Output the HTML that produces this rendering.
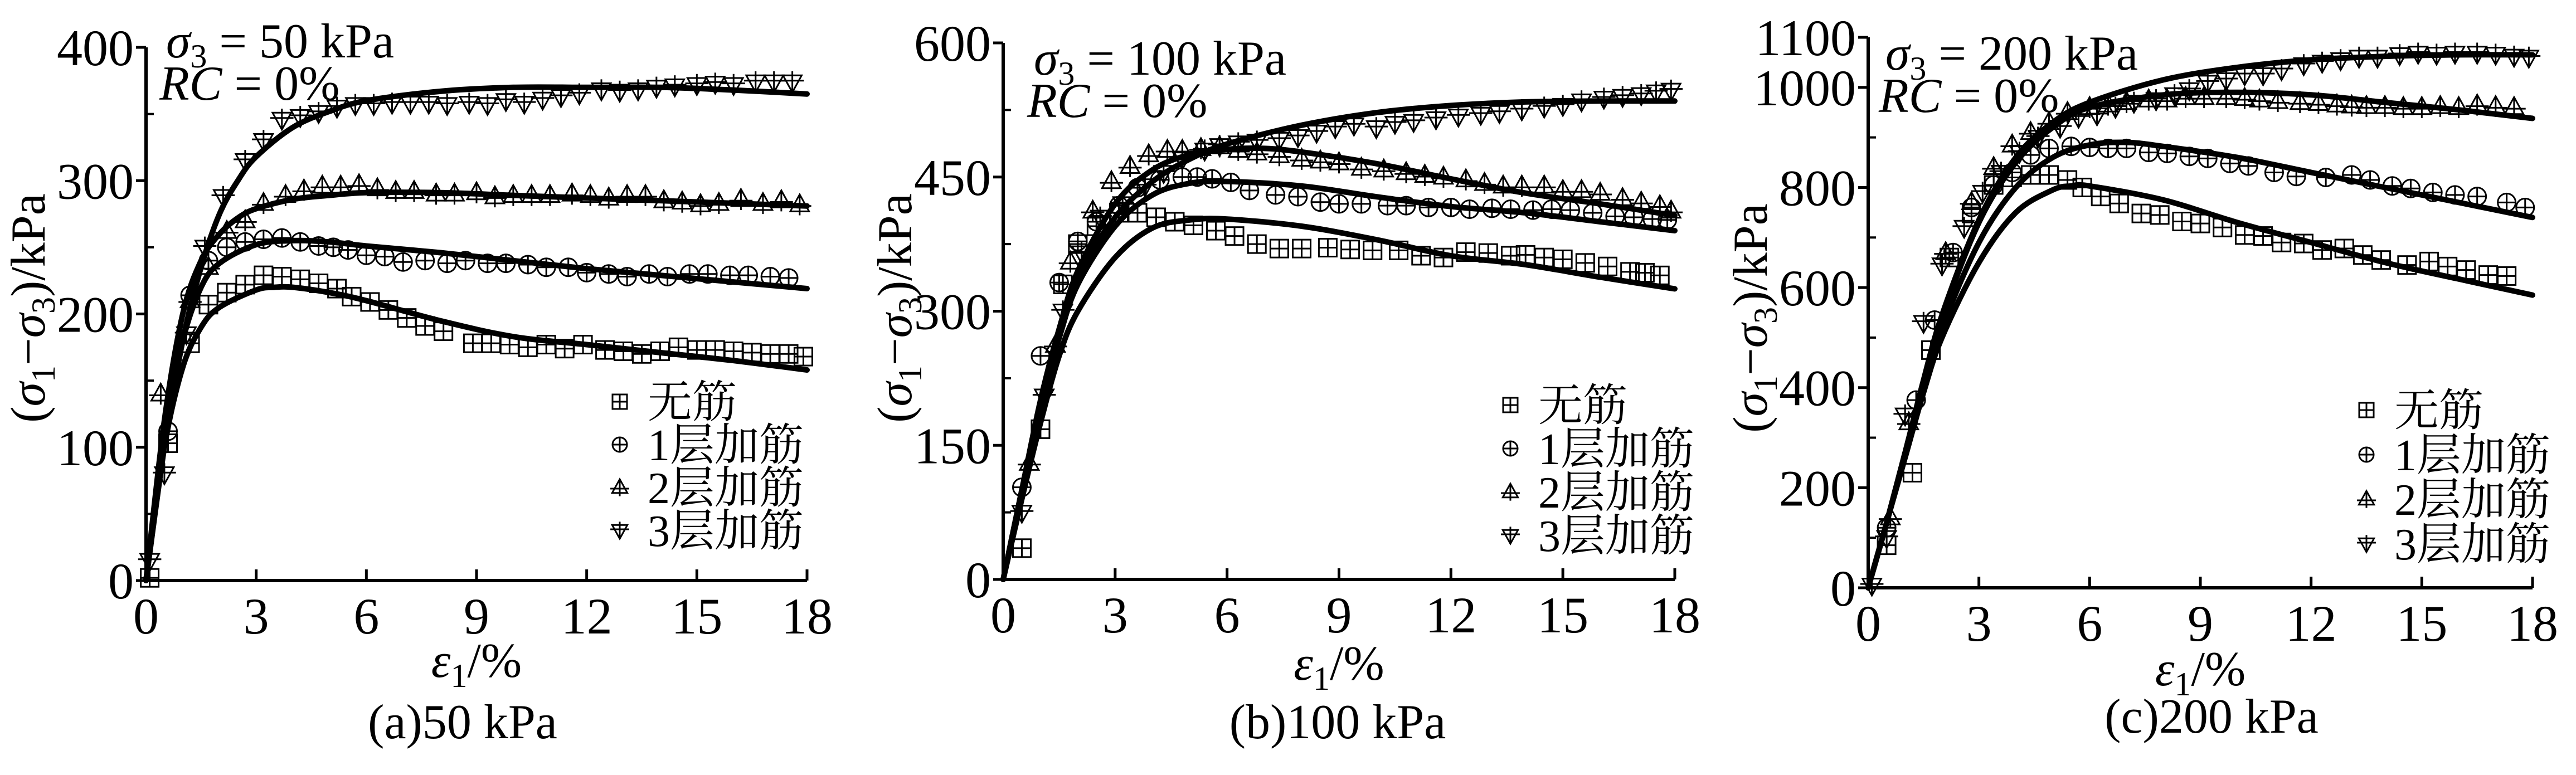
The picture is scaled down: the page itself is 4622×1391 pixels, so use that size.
<!DOCTYPE html>
<html><head><meta charset="utf-8"><style>
html,body{margin:0;padding:0;background:#fff;}
svg{display:block;}
svg text{font-family:"Liberation Serif","Noto Serif CJK SC","Noto Sans CJK SC",serif !important;fill:#000;}
</style></head><body>
<svg id="fig" width="4622" height="1391" viewBox="0 0 4622 1391" font-family="'Liberation Serif','Noto Serif CJK SC',serif" xmlns="http://www.w3.org/2000/svg"></svg>
<script>
// ---------- Panel (a) 50 kPa ----------
const aNoneCurveX=[0,0.5,1,1.5,2,3,3.5,4,5,6,8,10,12,14,16,18];
const aNoneCurveY=[0,100,160,190,205,218,220,220,216,210,195,183,177,171,165,158];
const aNonePtsX=[0.1,0.6,1.2,1.7,2.2,2.7,3.2,3.7,4.2,4.7,5.2,5.6,6.1,6.6,7.1,7.6,8.1,8.9,9.4,9.9,10.4,10.9,11.4,11.9,12.5,13.0,13.5,14.0,14.5,15.0,15.5,16.0,16.5,17.0,17.5,17.9];
const aNonePtsY=[2,103,178,207,216,222,229,228,226,223,219,213,209,203,197,191,187,178,178,177,175,177,174,177,173,172,170,172,175,173,173,172,171,170,170,168];
const aL1CurveX=[0,0.5,1,1.5,2,3,4,5,6,8,10,12,14,16,18];
const aL1CurveY=[0,110,180,220,238,252,255,254,251,246,240,234,229,224,219];
const aL1PtsX=[0.6,1.2,1.7,2.2,2.7,3.2,3.7,4.2,4.7,5.1,5.5,6.0,6.5,7.0,7.6,8.2,8.7,9.3,9.8,10.4,10.9,11.5,12.0,12.6,13.1,13.7,14.2,14.8,15.3,15.9,16.4,17.0,17.5];
const aL1PtsY=[112,214,240,250,254,256,257,254,251,250,248,244,243,239,240,238,240,238,238,237,235,235,231,230,228,230,228,230,230,229,229,228,227];
const aL2CurveX=[0,0.5,1,1.5,2,2.5,3,4,5,6,8,10,12,14,16,18];
const aL2CurveY=[0,120,200,240,260,272,279,286,289,291,291,289,287,285,283,281];
const aL2PtsX=[0.4,1.2,1.7,2.2,2.7,3.2,3.8,4.3,4.8,5.3,5.8,6.3,6.8,7.3,7.9,8.4,9.0,9.5,10.0,10.5,11.0,11.6,12.1,12.6,13.1,13.6,14.1,14.6,15.1,15.6,16.2,16.8,17.3,17.8];
const aL2PtsY=[140,210,235,262,270,283,289,293,296,296,297,294,292,292,290,290,291,288,289,289,289,290,289,287,289,289,285,284,282,283,286,283,285,282];
const aL3CurveX=[0,0.5,1,1.5,2,2.5,3,4,5,6,8,10,12,14,16,18];
const aL3CurveY=[0,100,180,235,275,300,318,340,352,360,367,370,370,370,368,365];
const aL3PtsX=[0.1,0.5,1.1,1.6,2.1,2.7,3.2,3.7,4.2,4.7,5.2,5.7,6.2,6.7,7.2,7.7,8.2,8.8,9.3,9.8,10.3,10.8,11.3,11.8,12.4,12.9,13.4,13.9,14.4,15.0,15.5,16.0,16.6,17.1,17.6];
const aL3PtsY=[15,80,185,250,288,315,330,346,348,351,355,357,357,358,358,358,357,358,357,360,358,361,363,365,368,367,368,370,371,372,373,372,374,374,374];
const aYTicks=[0,100,200,300,400];
// ---------- Panel (b) 100 kPa ----------
const bNoneCurveX=[0,0.5,1,1.5,2,3,4,5,6,8,10,12,14,16,18];
const bNoneCurveY=[0,90,175,250,300,360,393,402,403,395,380,362,352,338,325];
const bNonePtsX=[0.5,1.0,1.6,2.0,2.5,3.1,3.6,4.1,4.6,5.1,5.7,6.2,6.8,7.4,8.0,8.7,9.3,9.9,10.6,11.2,11.8,12.4,13.0,13.6,14.0,14.5,15.0,15.6,16.2,16.8,17.2,17.6];
const bNonePtsY=[35,168,330,375,395,410,410,405,400,396,390,384,375,370,370,371,369,368,368,362,360,366,365,362,363,360,358,354,350,344,343,340];
const bL1CurveX=[0,0.5,1,1.5,2,3,4,5,6,8,10,12,14,16,18];
const bL1CurveY=[0,100,195,270,330,395,430,443,445,440,428,417,410,400,390];
const bL1PtsX=[0.5,1.0,1.5,2.0,2.5,3.1,3.6,4.2,4.8,5.2,5.6,6.1,6.6,7.3,7.9,8.5,9.0,9.6,10.3,10.8,11.4,12.0,12.5,13.1,13.6,14.2,14.7,15.2,15.8,16.4,16.9,17.4,17.8];
const bL1PtsY=[103,250,332,378,400,418,438,447,450,450,448,444,435,430,428,422,420,420,418,418,416,416,414,415,414,413,414,413,410,406,405,403,402];
const bL2CurveX=[0,0.5,1,1.5,2,3,4,5,6,7,8,10,12,14,16,18];
const bL2CurveY=[0,100,200,280,345,420,458,475,481,482,478,465,448,432,420,407];
const bL2PtsX=[0.7,1.4,1.8,2.4,2.9,3.4,3.9,4.4,4.8,5.3,5.8,6.3,6.8,7.4,8.0,8.5,9.0,9.6,10.2,10.8,11.3,11.8,12.4,12.9,13.4,13.9,14.5,15.0,15.5,16.0,16.6,17.1,17.6,17.9];
const bL2PtsY=[130,262,355,412,445,462,475,480,480,482,484,480,477,474,470,468,466,460,458,455,452,450,447,443,440,440,440,435,435,432,426,422,418,412];
const bL3CurveX=[0,0.5,1,1.5,2,3,4,5,6,8,10,12,14,16,18];
const bL3CurveY=[0,100,200,280,340,405,445,470,487,508,522,530,534,535,535];
const bL3PtsX=[0.5,1.1,1.6,2.1,2.6,3.2,3.8,4.3,4.8,5.4,5.8,6.3,6.8,7.4,7.9,8.4,8.9,9.4,10.0,10.5,11.0,11.6,12.2,12.8,13.3,13.9,14.5,15.0,15.5,16.1,16.6,17.1,17.5,17.9];
const bL3PtsY=[75,205,300,365,405,420,440,455,470,480,485,488,490,492,495,500,505,508,505,510,512,515,518,520,522,525,528,530,535,538,540,542,545,547];
const bYTicks=[0,150,300,450,600];
// ---------- Panel (c) 200 kPa ----------
const cNoneCurveX=[0,0.5,1,1.5,2,3,4,5,5.5,6,8,10,12,14,16,18];
const cNoneCurveY=[0,130,260,390,500,650,750,795,803,803,775,730,690,650,617,585];
const cNonePtsX=[0.5,1.2,1.7,2.2,2.8,3.4,3.9,4.4,4.9,5.4,5.8,6.3,6.8,7.4,7.9,8.5,9.0,9.6,10.2,10.7,11.2,11.8,12.3,12.9,13.4,13.9,14.6,15.2,15.7,16.2,16.8,17.3];
const cNonePtsY=[85,230,475,660,748,805,820,825,825,815,800,782,768,748,745,732,728,720,705,703,690,688,675,678,665,655,645,652,642,635,625,623];
const cL1CurveX=[0,0.5,1,1.5,2,3,4,5,6,7,8,10,12,14,16,18];
const cL1CurveY=[0,130,265,400,520,690,800,860,885,890,882,860,830,800,770,740];
const cL1PtsX=[0.5,1.3,1.8,2.3,2.8,3.4,3.9,4.4,4.9,5.5,6.0,6.5,7.0,7.6,8.1,8.7,9.2,9.8,10.3,11.0,11.6,12.4,13.1,13.6,14.2,14.7,15.3,15.9,16.5,17.3,17.8];
const cL1PtsY=[120,375,535,670,760,805,830,865,878,882,880,878,878,870,868,862,858,848,843,830,822,820,825,815,803,798,790,785,782,770,760];
const cL2CurveX=[0,0.5,1,1.5,2,3,4,5,6,8,10,12,14,16,18];
const cL2CurveY=[0,130,270,410,540,730,850,920,960,985,990,985,970,955,938];
const cL2PtsX=[0.6,1.1,2.1,2.8,3.4,3.9,4.4,4.9,5.4,6.0,6.5,7.0,7.6,8.1,8.6,9.1,9.7,10.2,10.6,11.1,11.7,12.2,12.7,13.1,13.5,14.0,14.5,15.0,15.5,16.0,16.5,17.0,17.5];
const cL2PtsY=[140,330,670,770,840,885,910,930,950,960,965,970,975,975,980,980,980,978,975,972,970,968,965,963,962,962,960,960,962,960,965,962,960];
const cL3CurveX=[0,0.5,1,1.5,2,3,4,5,6,8,10,12,14,16,18];
const cL3CurveY=[0,130,270,415,545,735,860,930,970,1015,1040,1055,1062,1065,1065];
const cL3PtsX=[0.1,0.5,1.0,1.5,2.0,2.6,3.1,3.6,4.1,4.6,5.2,5.7,6.2,6.7,7.2,7.8,8.3,8.7,9.2,9.7,10.2,10.7,11.2,11.8,12.3,12.8,13.3,13.8,14.4,14.9,15.4,15.9,16.5,17.0,17.5,17.9];
const cL3PtsY=[5,100,345,530,645,720,790,830,870,900,920,940,945,960,970,975,985,995,1010,1015,1025,1025,1035,1045,1050,1055,1060,1060,1065,1068,1066,1068,1068,1066,1062,1060];
const cYTicks=[0,200,400,600,800,1000,1100];
const xTicks=[0,3,6,9,12,15,18];
const legendLabels=["无筋","1层加筋","2层加筋","3层加筋"];

const NS="http://www.w3.org/2000/svg";
const FONT="'Liberation Serif','Noto Serif CJK SC',serif";
const svg=document.getElementById('fig');
function mk(tag,attrs,parent){const e=document.createElementNS(NS,tag);for(const k in attrs)e.setAttribute(k,attrs[k]);if(tag==='text')e.setAttribute('font-family',FONT);(parent||svg).appendChild(e);return e;}

function smoothPath(pts){
  let d="M"+pts[0][0].toFixed(1)+","+pts[0][1].toFixed(1);
  for(let i=0;i<pts.length-1;i++){
    const p0=pts[Math.max(0,i-1)],p1=pts[i],p2=pts[i+1],p3=pts[Math.min(pts.length-1,i+2)];
    const c1x=p1[0]+(p2[0]-p0[0])/6,c1y=p1[1]+(p2[1]-p0[1])/6;
    const c2x=p2[0]-(p3[0]-p1[0])/6,c2y=p2[1]-(p3[1]-p1[1])/6;
    d+=" C"+c1x.toFixed(1)+","+c1y.toFixed(1)+" "+c2x.toFixed(1)+","+c2y.toFixed(1)+" "+p2[0].toFixed(1)+","+p2[1].toFixed(1);
  }
  return d;
}

function marker(g,type,cx,cy,r){
  const st={fill:"none",stroke:"#000","stroke-width":3};
  if(type===0){mk('rect',Object.assign({x:cx-r,y:cy-r,width:2*r,height:2*r},st),g);
    mk('path',Object.assign({d:`M${cx-r},${cy}H${cx+r}M${cx},${cy-r}V${cy+r}`},st),g);}
  else if(type===1){mk('circle',Object.assign({cx:cx,cy:cy,r:r},st),g);
    mk('path',Object.assign({d:`M${cx-r},${cy}H${cx+r}M${cx},${cy-r}V${cy+r}`},st),g);}
  else if(type===2){mk('path',Object.assign({d:`M${cx},${cy-r*1.15}L${cx+r*1.05},${cy+r*0.75}L${cx-r*1.05},${cy+r*0.75}Z M${cx-r*1.3},${cy+r*0.15}H${cx+r*1.3}M${cx},${cy-r*1.15}V${cy+r*1.2}`},st),g);}
  else {mk('path',Object.assign({d:`M${cx},${cy+r*1.15}L${cx+r*1.05},${cy-r*0.75}L${cx-r*1.05},${cy-r*0.75}Z M${cx-r*1.3},${cy-r*0.15}H${cx+r*1.3}M${cx},${cy+r*1.15}V${cy-r*1.2}`},st),g);}
}

function panel(cfg){
  const g=mk('g',{});
  
  
  const X=v=>cfg.x0+(cfg.x1-cfg.x0)*v/18;
  const Y=v=>cfg.y0-(cfg.y0-cfg.yTop)*v/cfg.yMax;
  cfg.series.forEach((s,i)=>{
    const sg=mk('g',{},g);
    
    
    s.px.forEach((xv,j)=>marker(sg,i,X(xv),Y(s.py[j]),16));
  });
  cfg.series.forEach((s,i)=>{
    const p=mk('path',{d:smoothPath(s.cx.map((xv,j)=>[X(xv),Y(s.cy[j])])),fill:"none",stroke:"#000","stroke-width":10,"stroke-linecap":"round"},g);
    
    
  });
  const ax=mk('path',{d:`M${cfg.x0},${cfg.yTop}V${cfg.y0}H${cfg.x1}`,fill:"none",stroke:"#000","stroke-width":6},g);
  
  
  xTicks.forEach(t=>{
    mk('line',{x1:X(t),x2:X(t),y1:cfg.y0,y2:cfg.y0-20,stroke:"#000","stroke-width":5},g);
    const tx=mk('text',{x:X(t),y:cfg.y0+95,"font-size":92,"text-anchor":"middle"},g);
    tx.textContent=t;
    
    
  });
  cfg.yTicks.forEach(t=>{
    mk('line',{x1:cfg.x0-18,x2:cfg.x0,y1:Y(t),y2:Y(t),stroke:"#000","stroke-width":5},g);
    const ty=mk('text',{x:cfg.x0-22,y:Y(t)+32,"font-size":92,"text-anchor":"end"},g);
    ty.textContent=t;
    
    
  });
  for(let v=cfg.minor;v<cfg.yMax;v+=cfg.minor*2){
    if(cfg.yTicks.indexOf(v)<0) mk('line',{x1:cfg.x0,x2:cfg.x0+14,y1:Y(v),y2:Y(v),stroke:"#000","stroke-width":4},g);
  }
  const a1=mk('text',{x:cfg.annX,y:cfg.annY,"font-size":88},g);
  a1.innerHTML=`<tspan font-style="italic">σ</tspan><tspan font-size="60" dy="18">3</tspan><tspan dy="-18"> = ${cfg.sig} kPa</tspan>`;
  
  
  const a2=mk('text',{x:cfg.annX-12,y:cfg.annY+76,"font-size":88},g);
  a2.innerHTML=`<tspan font-style="italic">RC</tspan> = 0%`;
  
  
  legendLabels.forEach((l,i)=>{
    const yy=cfg.legY+i*cfg.legDy;
    const lg=mk('g',{},g);
    
    
    marker(lg,i,cfg.legX,yy,13);
    const t=mk('text',{x:cfg.legX+50,y:yy+28,"font-size":80},lg);
    t.textContent=l;
  });
  const xt=mk('text',{x:(cfg.x0+cfg.x1)/2,y:cfg.xTitleY,"font-size":88,"text-anchor":"middle"},g);
  xt.innerHTML=`<tspan font-style="italic">ε</tspan><tspan font-size="60" dy="18">1</tspan><tspan dy="-18">/%</tspan>`;
  
  
  const yt=mk('text',{x:0,y:0,"font-size":88,"text-anchor":"middle",transform:`translate(${cfg.yTitleX},${cfg.yTitleY}) rotate(-90)`},g);
  yt.innerHTML=`(<tspan font-style="italic">σ</tspan><tspan font-size="60" dy="18">1</tspan><tspan dy="-18">−</tspan><tspan font-style="italic">σ</tspan><tspan font-size="60" dy="18">3</tspan><tspan dy="-18">)/kPa</tspan>`;
  
  
  const cap=mk('text',{x:cfg.capX,y:cfg.capY,"font-size":88,"text-anchor":"middle"},g);
  cap.textContent=cfg.cap;
  
  
}

panel({name:'panel-a-50kpa',x0:262,x1:1448,y0:1042,yTop:85,yMax:400,yTicks:aYTicks,minor:50,sig:50,
  annX:298,annY:103,legX:1112,legY:721,legDy:77,xTitleY:1215,yTitleX:80,yTitleY:553,capX:830,capY:1325,cap:'(a)50 kPa',
  series:[{cx:aNoneCurveX,cy:aNoneCurveY,px:aNonePtsX,py:aNonePtsY},{cx:aL1CurveX,cy:aL1CurveY,px:aL1PtsX,py:aL1PtsY},
          {cx:aL2CurveX,cy:aL2CurveY,px:aL2PtsX,py:aL2PtsY},{cx:aL3CurveX,cy:aL3CurveY,px:aL3PtsX,py:aL3PtsY}]});
panel({name:'panel-b-100kpa',x0:1800,x1:3005,y0:1040,yTop:77,yMax:600,yTicks:bYTicks,minor:75,sig:100,
  annX:1855,annY:134,legX:2710,legY:727,legDy:78,xTitleY:1220,yTitleX:1635,yTitleY:553,capX:2400,capY:1325,cap:'(b)100 kPa',
  series:[{cx:bNoneCurveX,cy:bNoneCurveY,px:bNonePtsX,py:bNonePtsY},{cx:bL1CurveX,cy:bL1CurveY,px:bL1PtsX,py:bL1PtsY},
          {cx:bL2CurveX,cy:bL2CurveY,px:bL2PtsX,py:bL2PtsY},{cx:bL3CurveX,cy:bL3CurveY,px:bL3PtsX,py:bL3PtsY}]});
panel({name:'panel-c-200kpa',x0:3352,x1:4544,y0:1055,yTop:67,yMax:1100,yTicks:cYTicks,minor:100,sig:200,
  annX:3383,annY:125,legX:4246,legY:736,legDy:80,xTitleY:1230,yTitleX:3170,yTitleY:571,capX:3968,capY:1315,cap:'(c)200 kPa',
  series:[{cx:cNoneCurveX,cy:cNoneCurveY,px:cNonePtsX,py:cNonePtsY},{cx:cL1CurveX,cy:cL1CurveY,px:cL1PtsX,py:cL1PtsY},
          {cx:cL2CurveX,cy:cL2CurveY,px:cL2PtsX,py:cL2PtsY},{cx:cL3CurveX,cy:cL3CurveY,px:cL3PtsX,py:cL3PtsY}]});
</script>
</body></html>
